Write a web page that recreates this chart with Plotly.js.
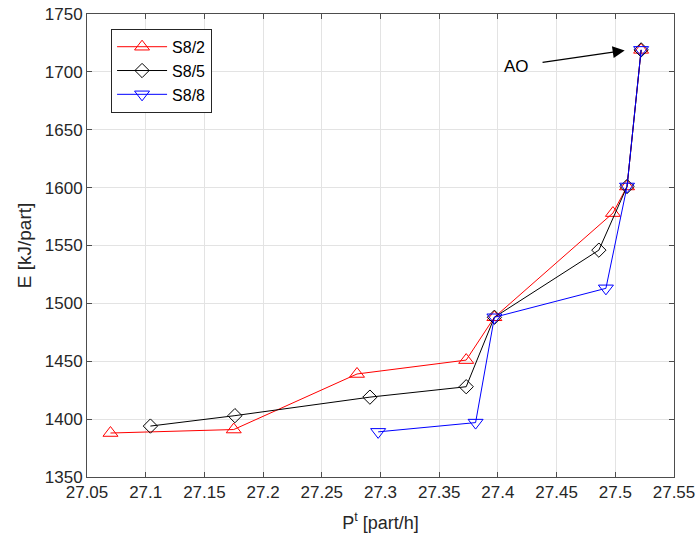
<!DOCTYPE html>
<html>
<head>
<meta charset="utf-8">
<script src="https://cdn.plot.ly/plotly-3.0.1.min.js"></script>
<style>html,body{margin:0;padding:0;background:#fff;}#chart{width:699px;height:541px;}</style>
</head>
<body>
<div id="chart"></div>
<script>
// Data
const seriesNames = ["S8/2", "S8/5", "S8/8"];
const x_S82 = [27.070, 27.175, 27.280, 27.373, 27.397, 27.498, 27.510, 27.522];
const y_S82 = [1388, 1391, 1439, 1451, 1488, 1578, 1601, 1719];
const x_S85 = [27.104, 27.176, 27.291, 27.373, 27.397, 27.486, 27.510, 27.522];
const y_S85 = [1394, 1403, 1419, 1428, 1488, 1546, 1601, 1719];
const x_S88 = [27.298, 27.381, 27.397, 27.492, 27.510, 27.522];
const y_S88 = [1389, 1397, 1488, 1513, 1601, 1719];
const xTicks = [27.05, 27.1, 27.15, 27.2, 27.25, 27.3, 27.35, 27.4, 27.45, 27.5, 27.55];
const xTickLabels = ["27.05", "27.1", "27.15", "27.2", "27.25", "27.3", "27.35", "27.4", "27.45", "27.5", "27.55"];
const yTicks = [1350, 1400, 1450, 1500, 1550, 1600, 1650, 1700, 1750];
const annotationLabel = "AO";
const annotationPoint = [27.508, 1718.5];
const annotationTextPos = [27.416, 1705];

const font = "Liberation Sans, Arial, Helvetica, sans-serif";
const axisCol = "#4d4d4d";

const traces = [
  {x: x_S82, y: y_S82, name: seriesNames[0], mode: "lines+markers",
   line: {color: "#ff0000", width: 1},
   marker: {symbol: "triangle-up-open", size: 13, color: "#ff0000", line: {width: 1}}},
  {x: x_S85, y: y_S85, name: seriesNames[1], mode: "lines+markers",
   line: {color: "#000000", width: 1},
   marker: {symbol: "diamond-open", size: 11, color: "#000000", line: {width: 1}}},
  {x: x_S88, y: y_S88, name: seriesNames[2], mode: "lines+markers",
   line: {color: "#0000ff", width: 1},
   marker: {symbol: "triangle-down-open", size: 13, color: "#0000ff", line: {width: 1}}}
];

const layout = {
  width: 699, height: 541,
  margin: {l: 87, r: 25, t: 14, b: 64, pad: 0},
  paper_bgcolor: "#ffffff", plot_bgcolor: "#ffffff",
  font: {family: font, size: 17, color: "#262626"},
  showlegend: true,
  legend: {
    x: 0.041, y: 0.968, xanchor: "left", yanchor: "top",
    bgcolor: "#ffffff", bordercolor: "#262626", borderwidth: 1,
    font: {family: font, size: 16, color: "#000000"},
    tracegroupgap: 0, itemwidth: 50
  },
  xaxis: {
    range: [27.05, 27.55], tickvals: xTicks, ticktext: xTickLabels,
    showgrid: true, gridcolor: "#e3e3e3", gridwidth: 1,
    zeroline: false, showline: true, linecolor: axisCol, linewidth: 1,
    mirror: "allticks", ticks: "inside", ticklen: 5, tickcolor: axisCol,
    automargin: false,
    tickfont: {family: font, size: 17, color: "#262626"},
    title: {text: "P<sup>t</sup> [part/h]", font: {family: font, size: 18, color: "#262626"}, standoff: 14}
  },
  yaxis: {
    range: [1350, 1750], tickvals: yTicks,
    showgrid: true, gridcolor: "#e3e3e3", gridwidth: 1,
    zeroline: false, showline: true, linecolor: axisCol, linewidth: 1,
    mirror: "allticks", ticks: "inside", ticklen: 5, tickcolor: axisCol,
    automargin: false,
    tickfont: {family: font, size: 17, color: "#262626"},
    title: {text: "E [kJ/part]", font: {family: font, size: 19, color: "#262626"}, standoff: 8}
  },
  annotations: [
    {x: annotationPoint[0], y: annotationPoint[1], xref: "x", yref: "y",
     ax: annotationTextPos[0], ay: annotationTextPos[1], axref: "x", ayref: "y",
     text: annotationLabel, showarrow: true, arrowhead: 2, arrowsize: 2, arrowwidth: 1.2,
     arrowcolor: "#000000", startstandoff: 12,
     font: {family: font, size: 17, color: "#000000"}}
  ]
};

Plotly.newPlot("chart", traces, layout, {displayModeBar: false, staticPlot: true});
</script>
</body>
</html>
